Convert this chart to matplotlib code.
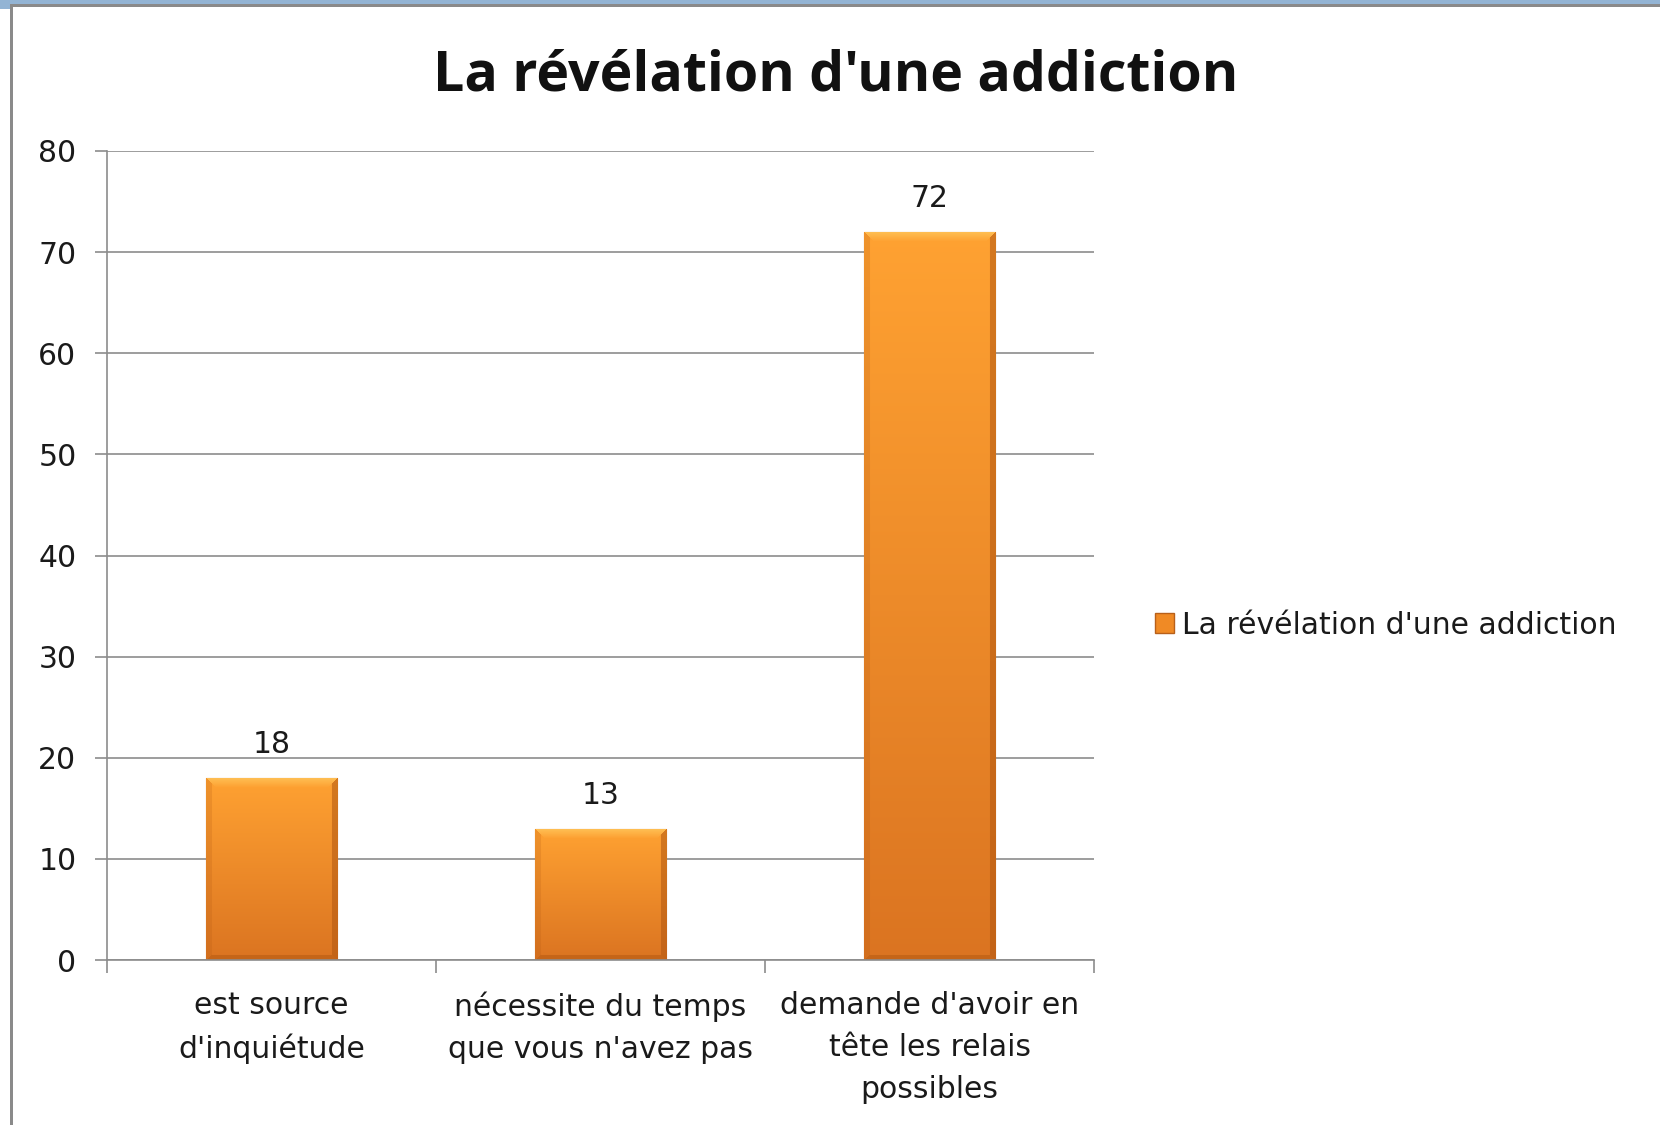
import numpy as np
import matplotlib.pyplot as plt
from matplotlib.patches import Rectangle
from matplotlib.colors import to_rgb

# données du graphique
categories = ["est source\nd'inquiétude",
              "nécessite du temps\nque vous n'avez pas",
              "demande d'avoir en\ntête les relais\npossibles"]
valeurs = [18, 13, 72]
titre = "La révélation d'une addiction"
serie = "La révélation d'une addiction"
yticks = [0, 10, 20, 30, 40, 50, 60, 70, 80]

plt.rcParams['font.family'] = ['DejaVu Sans']
fs = 21.5

W, H = 1660, 1125
fig = plt.figure(figsize=(W / 100, H / 100), dpi=100)

# cadre de la fenêtre (bande bleue + bordure grise)
fig.patches.append(Rectangle((0, 1 - 4 / H), 1, 4 / H, transform=fig.transFigure,
                             facecolor='#93b4d4', edgecolor='none'))
fig.patches.append(Rectangle((0, 1 - 9 / H), 10 / W, 9 / H, transform=fig.transFigure,
                             facecolor='#93b4d4', edgecolor='none'))
fig.patches.append(Rectangle((10 / W, 1 - 7 / H), 1, 3 / H, transform=fig.transFigure,
                             facecolor='#8a8a8a', edgecolor='none'))
fig.patches.append(Rectangle((10 / W, 0), 3 / W, 1 - 4 / H, transform=fig.transFigure,
                             facecolor='#8a8a8a', edgecolor='none'))

ax = fig.add_axes([107 / W, 1 - 960 / H, (1094 - 107) / W, (960 - 151) / H])
x = np.arange(len(categories))
ax.set_xlim(-0.5, len(categories) - 0.5)
ax.set_ylim(0, 80)

bars = ax.bar(x, valeurs, width=0.4, color='#f78d24', edgecolor='#c0661a',
              linewidth=0.8, zorder=2)

# dégradé + biseau sur chaque barre
haut = np.array(to_rgb('#ffa232'))
bas = np.array(to_rgb('#db7421'))
clair = np.array(to_rgb('#ffc85e'))
fonce = np.array(to_rgb('#b05610'))
for b in bars:
    x0, y0 = b.get_x(), b.get_y()
    bw, bh = b.get_width(), b.get_height()
    p0 = ax.transData.transform((x0, y0))
    p1 = ax.transData.transform((x0 + bw, y0 + bh))
    nc, nr = int(p1[0] - p0[0]), int(p1[1] - p0[1])
    t = np.linspace(0, 1, nr)[:, None, None]
    img = haut * (1 - t) + bas * t
    img = np.broadcast_to(img, (nr, nc, 3)).copy()
    rr, cc = np.mgrid[0:nr, 0:nc]
    d_top, d_bot = rr, nr - 1 - rr
    d_left, d_right = cc, nc - 1 - cc
    dmin = np.minimum.reduce([d_top, d_bot, d_left, d_right])
    bev = 10
    m_top = (d_top == dmin) & (d_top < bev)
    m_left = (d_left == dmin) & (d_left < 6) & ~m_top
    m_right = (d_right == dmin) & (d_right < 6) & ~m_top
    m_bot = (d_bot == dmin) & (d_bot < 5) & ~m_left & ~m_right
    a = (1 - d_top / bev)[..., None]
    img[m_top] = (img * (1 - 0.8 * a) + clair * 0.8 * a)[m_top]
    img[m_left] = img[m_left] * 0.8 + fonce * 0.2
    img[m_right] = img[m_right] * 0.45 + fonce * 0.55
    img[m_bot] = img[m_bot] * 0.5 + fonce * 0.5
    im = ax.imshow(img, extent=(x0, x0 + bw, y0, y0 + bh), origin='upper',
                   aspect='auto', zorder=2.5, interpolation='bilinear')
    im.set_clip_path(b)
    ax.annotate(f"{int(bh)}", (x0 + bw / 2, bh), xytext=(0, 13.5),
                textcoords='offset points', ha='center', va='bottom',
                fontsize=fs, color='#1a1a1a')

ax.set_xlim(-0.5, len(categories) - 0.5)
ax.set_ylim(0, 80)

# axes et quadrillage
ax.set_yticks(yticks)
ax.yaxis.grid(True, color='#8c8c8c', linewidth=1.2, zorder=0)
ax.set_axisbelow(True)
for s in ['top', 'right']:
    ax.spines[s].set_visible(False)
for s in ['left', 'bottom']:
    ax.spines[s].set_color('#8c8c8c')
    ax.spines[s].set_linewidth(1.2)
ax.tick_params(axis='y', length=9, width=1.2, color='#8c8c8c', labelsize=fs,
               labelcolor='#1a1a1a', pad=13)
ax.set_xticks(np.arange(len(categories) + 1) - 0.5)
ax.set_xticklabels([])
ax.tick_params(axis='x', which='major', length=9, width=1.2, color='#8c8c8c')
ax.set_xticks(x, minor=True)
ax.set_xticklabels(categories, minor=True, fontsize=fs, color='#1a1a1a',
                   linespacing=1.56, va='top')
ax.tick_params(axis='x', which='minor', length=0, pad=22.5)

fig.text(836 / W, 1 - 76 / H, titre, fontsize=40, fontweight='bold', color='#111111',
         ha='center', va='center', family='Open Sans')

# légende
handle = Rectangle((0, 0), 1, 1, facecolor='#f08a25', edgecolor='#b8601a', linewidth=1)
fig.legend([handle], [serie], loc='center left', bbox_to_anchor=(1155 / W, 1 - 625 / H),
           frameon=False, fontsize=fs, handlelength=0.62, handleheight=0.62,
           handletextpad=0.3, borderpad=0, borderaxespad=0, labelcolor='#1a1a1a')

fig.savefig('out.png', dpi=100, facecolor='white')
